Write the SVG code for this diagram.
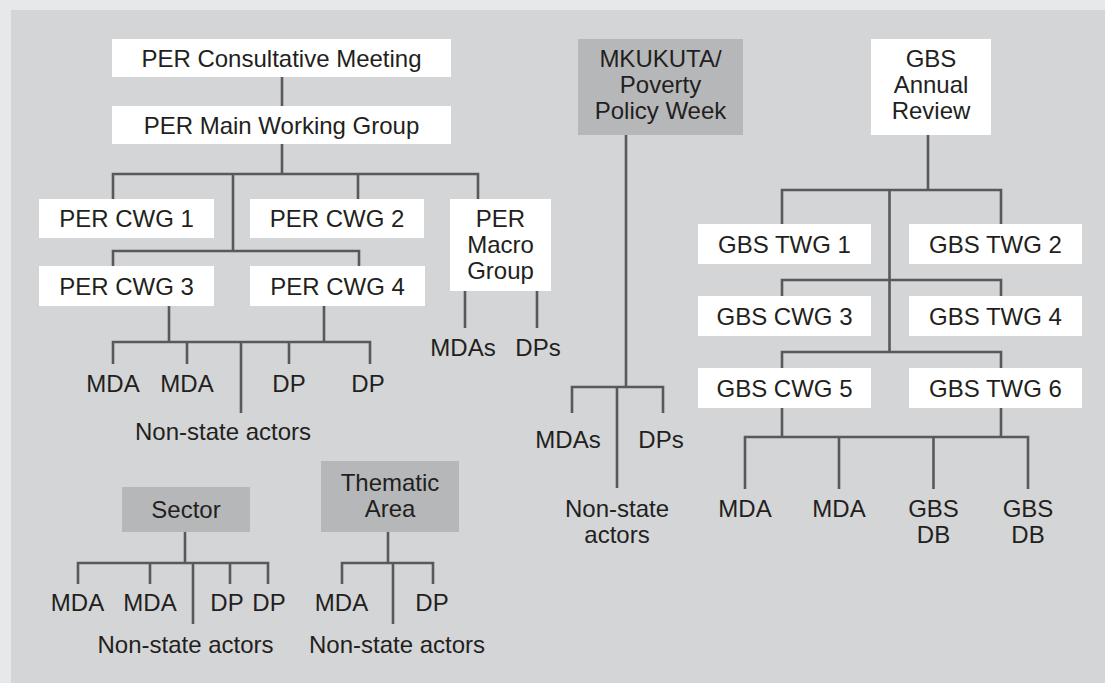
<svg xmlns="http://www.w3.org/2000/svg" width="1105" height="683" viewBox="0 0 1105 683">
<style>
.bw{fill:#ffffff}
.bd{fill:#b6b7b9}
text{font-family:"Liberation Sans",Arial,sans-serif;font-size:24px;fill:#231f20;text-anchor:middle}
.c{fill:none;stroke:#58595b;stroke-width:2.6}
</style>
<rect x="0" y="0" width="1105" height="683" fill="#e7e8e9"/>
<rect x="11" y="10" width="1094" height="673" fill="#d4d5d7"/>
<g id="connectors" class="c">
<path d="M282 77V106M282 144V174M113 199V174H478V199M233 174V251M358 174V199M113 266V251H359V266M169 306V342M324 306V342M113 364V342H370V364M187 342V364M289 342V364M241 342V413M465 291V328M537 291V328"/>
<path d="M185 532V563M78 584V563H268V584M150 563V584M230 563V584M193 563V624"/>
<path d="M388 532V563M342 584V563H433V584M393 563V624"/>
<path d="M626 135V387M572 413V387H663V413M617 387V488"/>
<path d="M928 135V190M782 224V190H1001V224M889.5 190V352M782 297V280H1001V297M782 368V352H1001V368M782 408V437M1001 408V437M745 489V437H1028V489M839 437V489M933.5 437V489"/>
</g>
<g id="per-consultative"><rect class="bw" x="112" y="39" width="339" height="38"/><text x="281.5" y="66.5">PER Consultative Meeting</text></g>
<g id="per-main"><rect class="bw" x="112" y="106" width="339" height="38"/><text x="281.5" y="133.5">PER Main Working Group</text></g>
<g id="per-cwg1"><rect class="bw" x="39" y="199" width="175" height="39"/><text x="126.5" y="227">PER CWG 1</text></g>
<g id="per-cwg2"><rect class="bw" x="250" y="199" width="174" height="39"/><text x="337" y="227">PER CWG 2</text></g>
<g id="per-macro"><rect class="bw" x="450" y="199" width="101" height="92"/><text x="500.5" y="227">PER</text><text x="500.5" y="253">Macro</text><text x="500.5" y="279">Group</text></g>
<g id="per-cwg3"><rect class="bw" x="39" y="266" width="175" height="40"/><text x="126.5" y="294.5">PER CWG 3</text></g>
<g id="per-cwg4"><rect class="bw" x="250" y="266" width="175" height="40"/><text x="337.5" y="294.5">PER CWG 4</text></g>
<g id="per-leaves"><text x="113" y="392">MDA</text><text x="187" y="392">MDA</text><text x="289" y="392">DP</text><text x="368" y="392">DP</text><text x="223" y="440">Non-state actors</text></g>
<g id="macro-leaves"><text x="463" y="356">MDAs</text><text x="538" y="356">DPs</text></g>
<g id="sector"><rect class="bd" x="122" y="487" width="128" height="45"/><text x="186" y="518">Sector</text></g>
<g id="sector-leaves"><text x="77.5" y="611">MDA</text><text x="150" y="611">MDA</text><text x="227" y="611">DP</text><text x="269" y="611">DP</text><text x="185.5" y="653">Non-state actors</text></g>
<g id="thematic"><rect class="bd" x="321" y="461" width="138" height="71"/><text x="390" y="491">Thematic</text><text x="390" y="517">Area</text></g>
<g id="thematic-leaves"><text x="341.5" y="611">MDA</text><text x="432" y="611">DP</text><text x="397" y="653">Non-state actors</text></g>
<g id="mkukuta"><rect class="bd" x="578" y="39" width="165" height="96"/><text x="660.5" y="67">MKUKUTA/</text><text x="660.5" y="93">Poverty</text><text x="660.5" y="119">Policy Week</text></g>
<g id="mkukuta-leaves"><text x="568" y="448">MDAs</text><text x="661" y="448">DPs</text><text x="617" y="517">Non-state</text><text x="617" y="543">actors</text></g>
<g id="gbs-review"><rect class="bw" x="871" y="39" width="120" height="96"/><text x="931" y="66.5">GBS</text><text x="931" y="93">Annual</text><text x="931" y="119">Review</text></g>
<g id="gbs-twg1"><rect class="bw" x="698" y="224" width="173" height="40"/><text x="784.5" y="252.5">GBS TWG 1</text></g>
<g id="gbs-twg2"><rect class="bw" x="909" y="224" width="173" height="40"/><text x="995.5" y="252.5">GBS TWG 2</text></g>
<g id="gbs-cwg3"><rect class="bw" x="698" y="296" width="173" height="40"/><text x="784.5" y="324.5">GBS CWG 3</text></g>
<g id="gbs-twg4"><rect class="bw" x="909" y="296" width="173" height="40"/><text x="995.5" y="324.5">GBS TWG 4</text></g>
<g id="gbs-cwg5"><rect class="bw" x="698" y="368" width="173" height="40"/><text x="784.5" y="396.5">GBS CWG 5</text></g>
<g id="gbs-twg6"><rect class="bw" x="909" y="368" width="173" height="40"/><text x="995.5" y="396.5">GBS TWG 6</text></g>
<g id="gbs-leaves"><text x="745" y="517">MDA</text><text x="839" y="517">MDA</text><text x="933.5" y="517">GBS</text><text x="933.5" y="543">DB</text><text x="1028" y="517">GBS</text><text x="1028" y="543">DB</text></g>
</svg>
